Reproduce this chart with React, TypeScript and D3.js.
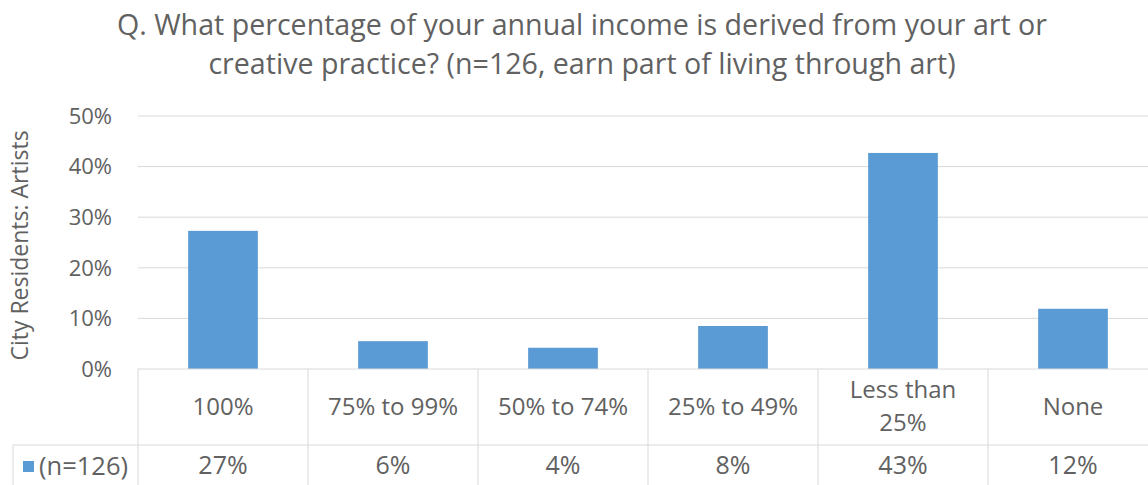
import React, { useRef, useEffect } from 'react';
import * as d3 from 'd3';

const categories = ['100%', '75% to 99%', '50% to 74%', '25% to 49%', 'Less than|25%', 'None'];
const values = [27.3, 5.5, 4.2, 8.5, 42.7, 11.9];
const tableLabels = ['27%', '6%', '4%', '8%', '43%', '12%'];
const yTicks = [0, 10, 20, 30, 40, 50];
const seriesName = '(n=126)';
const titleLines = [
  'Q. What percentage of your annual income is derived from your art or',
  'creative practice? (n=126, earn part of living through art)',
];

const App: React.FC = () => {
  const svgRef = useRef<SVGSVGElement>(null);

  useEffect(() => {
    if (!svgRef.current) return;
    const svg = d3.select(svgRef.current);
    svg.selectAll('*').remove();

    const width = 1148;
    const height = 485;
    const font = '"Open Sans", sans-serif';
    const textColor = '#616161';
    const gridColor = '#d9d9d9';
    const barColor = '#5b9bd5';

    const plotLeft = 138;
    const catWidth = 170;
    const yTop = 116;
    const yBottom = 369;
    const rowSplit = 445;

    svg.attr('width', width).attr('height', height);
    svg.append('rect').attr('width', width).attr('height', height).attr('fill', '#fff');

    const x = d3.scaleBand<string>()
      .domain(categories)
      .range([plotLeft, plotLeft + catWidth * categories.length])
      .paddingInner(0.59)
      .paddingOuter(0.295);

    const y = d3.scaleLinear().domain([0, 50]).range([yBottom, yTop]);

    // title
    svg.append('g').selectAll('text')
      .data(titleLines)
      .enter().append('text')
      .attr('x', 582)
      .attr('y', (d, i) => 35 + i * 39)
      .attr('text-anchor', 'middle')
      .style('font-family', font)
      .style('font-size', '28.6px')
      .style('fill', textColor)
      .text(d => d);

    // gridlines
    svg.append('g').selectAll('line')
      .data(yTicks.slice(1))
      .enter().append('line')
      .attr('x1', plotLeft).attr('x2', width)
      .attr('y1', d => y(d)).attr('y2', d => y(d))
      .attr('stroke', gridColor).attr('stroke-width', 1);

    // y tick labels
    svg.append('g').selectAll('text')
      .data(yTicks)
      .enter().append('text')
      .attr('x', 112)
      .attr('y', d => y(d))
      .attr('dy', '0.35em')
      .attr('text-anchor', 'end')
      .style('font-family', font)
      .style('font-size', '22px')
      .style('fill', textColor)
      .text(d => `${d}%`);

    // y axis title
    svg.append('text')
      .attr('transform', `translate(28,${(yTop + yBottom) / 2 + 3}) rotate(-90)`)
      .attr('text-anchor', 'middle')
      .style('font-family', font)
      .style('font-size', '23px')
      .style('fill', textColor)
      .text('City Residents: Artists');

    // bars
    svg.append('g').selectAll('rect')
      .data(categories)
      .enter().append('rect')
      .attr('x', d => x(d)!)
      .attr('width', x.bandwidth())
      .attr('y', (d, i) => y(values[i]))
      .attr('height', (d, i) => yBottom - y(values[i]))
      .attr('fill', barColor);

    // data table lines
    const table = svg.append('g');
    table.append('line')
      .attr('x1', plotLeft).attr('x2', width)
      .attr('y1', yBottom).attr('y2', yBottom)
      .attr('stroke', gridColor);
    table.append('line')
      .attr('x1', 13).attr('x2', width)
      .attr('y1', rowSplit).attr('y2', rowSplit)
      .attr('stroke', gridColor);
    table.append('line')
      .attr('x1', 13).attr('x2', 13)
      .attr('y1', rowSplit).attr('y2', height)
      .attr('stroke', gridColor);
    table.selectAll('.vline')
      .data(d3.range(categories.length + 1))
      .enter().append('line')
      .attr('class', 'vline')
      .attr('x1', i => plotLeft + i * catWidth).attr('x2', i => plotLeft + i * catWidth)
      .attr('y1', yBottom).attr('y2', height)
      .attr('stroke', gridColor);

    // category labels
    const cat = svg.append('g').selectAll('text')
      .data(categories)
      .enter().append('text')
      .attr('text-anchor', 'middle')
      .style('font-family', font)
      .style('font-size', '24px')
      .style('fill', textColor);
    cat.each(function (d) {
      const parts = d.split('|');
      const t = d3.select(this);
      const y0 = parts.length > 1 ? 398 : 415;
      parts.forEach((p, i) => {
        t.append('tspan')
          .attr('x', x(d)! + x.bandwidth() / 2)
          .attr('y', y0 + i * 33)
          .text(p);
      });
    });

    // table values
    svg.append('g').selectAll('text')
      .data(categories)
      .enter().append('text')
      .attr('x', d => x(d)! + x.bandwidth() / 2)
      .attr('y', 474)
      .attr('text-anchor', 'middle')
      .style('font-family', font)
      .style('font-size', '25px')
      .style('fill', textColor)
      .text((d, i) => tableLabels[i]);

    // legend key
    svg.append('rect')
      .attr('x', 23).attr('y', 461).attr('width', 11).attr('height', 11)
      .attr('fill', barColor);
    svg.append('text')
      .attr('x', 39).attr('y', 475)
      .style('font-family', font)
      .style('font-size', '25.5px')
      .style('fill', textColor)
      .text(seriesName);
  }, []);

  return <svg ref={svgRef} style={{ position: 'absolute', left: 0, top: 0 }}></svg>;
};

export default App;
